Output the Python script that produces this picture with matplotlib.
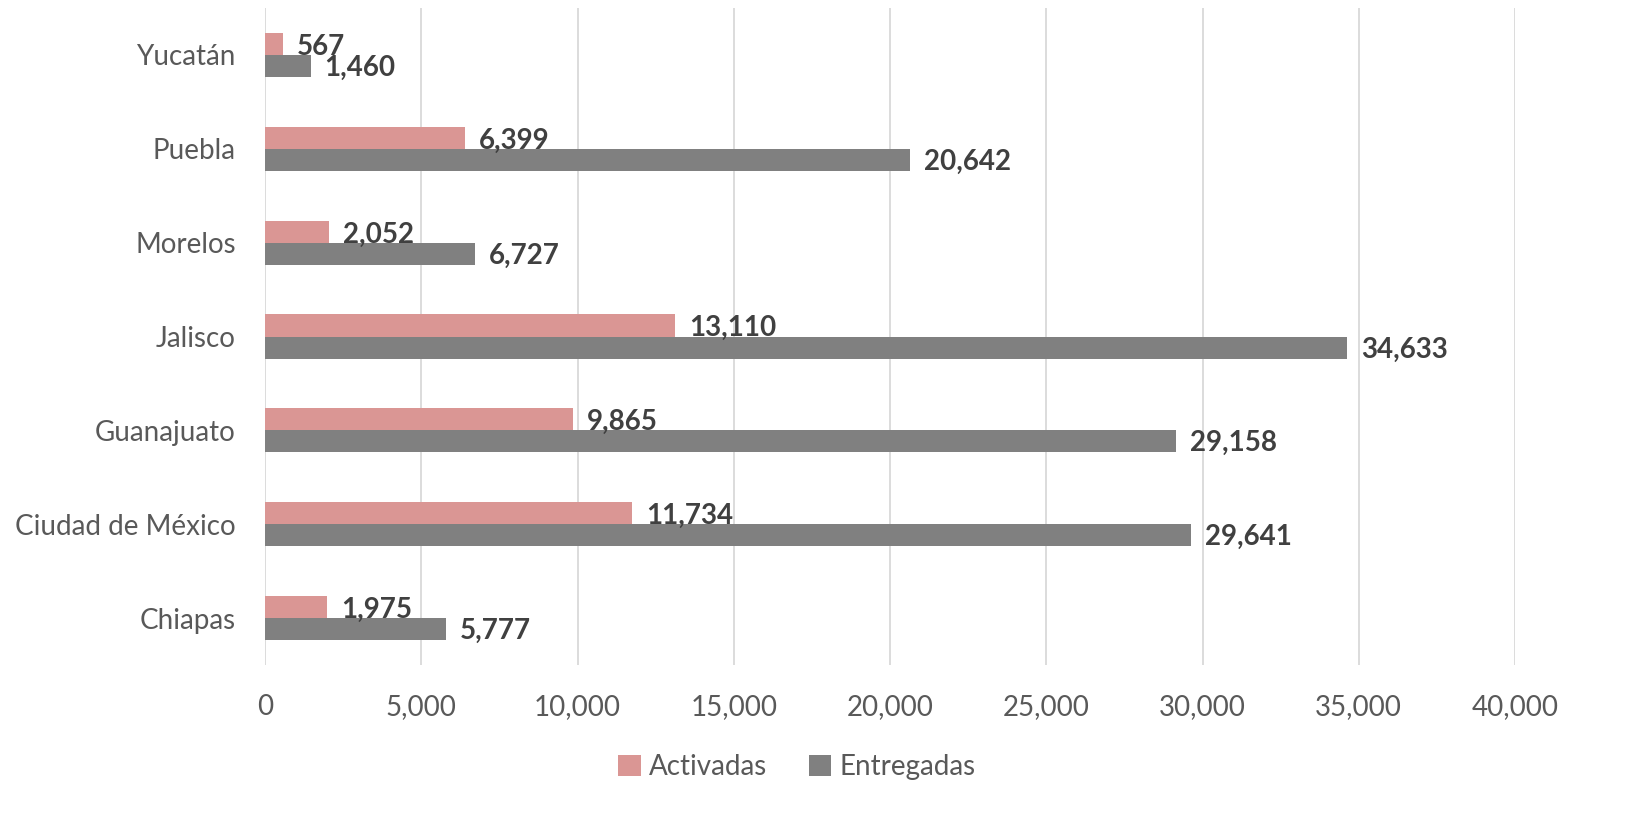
import matplotlib
matplotlib.use("Agg")
import matplotlib.pyplot as plt
import numpy as np

states = ["Chiapas", "Ciudad de México", "Guanajuato", "Jalisco", "Morelos", "Puebla", "Yucatán"]
activadas = [1975, 11734, 9865, 13110, 2052, 6399, 567]
entregadas = [5777, 29641, 29158, 34633, 6727, 20642, 1460]
xticks = [0, 5000, 10000, 15000, 20000, 25000, 30000, 35000, 40000]

plt.rcParams['font.family'] = ['Lato', 'DejaVu Sans']

fig = plt.figure(figsize=(16.32, 8.35), dpi=100)
ax = fig.add_axes([265/1632, 1-665/835, (1515-265)/1632, (665-8)/835])

y = np.arange(len(states))
h = 0.235
c_act = "#DA9694"
c_ent = "#808080"
ax.barh(y + h/2, activadas, height=h, color=c_act, label="Activadas", zorder=3)
ax.barh(y - h/2, entregadas, height=h, color=c_ent, label="Entregadas", zorder=3)

off = 450
for yi, a, e in zip(y, activadas, entregadas):
    ax.text(a + off, yi + h/2 - 0.03, f"{a:,}", va="center", ha="left", fontsize=20,
            fontweight="bold", color="#404040", zorder=4)
    ax.text(e + off, yi - h/2 - 0.02, f"{e:,}", va="center", ha="left", fontsize=20,
            fontweight="bold", color="#404040", zorder=4)

ax.set_xlim(0, 40000)
ax.set_ylim(-0.5, len(states) - 0.5)
ax.set_xticks(xticks)
ax.set_xticklabels([f"{v:,}" for v in xticks])
ax.set_yticks(y)
ax.set_yticklabels(states)
ax.tick_params(axis="both", length=0, labelsize=20, labelcolor="#595959")
ax.tick_params(axis="x", pad=21)
ax.tick_params(axis="y", pad=21)
ax.grid(axis="x", color="#D9D9D9", linewidth=1.3, zorder=0)
for s in ax.spines.values():
    s.set_visible(False)

leg = fig.legend(loc="center", bbox_to_anchor=(797/1632, 1-767/835), ncol=2, frameon=False,
                 fontsize=20, handlelength=0.8, handleheight=0.8, handletextpad=0.3,
                 columnspacing=1.5, labelcolor="#595959")

fig.savefig("out.png", dpi=100, facecolor="white")
